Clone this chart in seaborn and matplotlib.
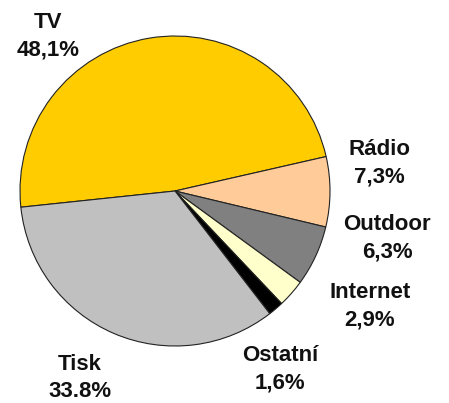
import matplotlib
matplotlib.use("Agg")
import matplotlib.pyplot as plt
import seaborn as sns

sns.set_theme(style="white")
plt.rcParams['font.family'] = ['Liberation Sans', 'DejaVu Sans']

categories = ["TV", "Rádio", "Outdoor", "Internet", "Ostatní", "Tisk"]
values = [48.1, 7.3, 6.3, 2.9, 1.6, 33.8]
value_labels = ["48,1%", "7,3%", "6,3%", "2,9%", "1,6%", "33.8%"]
colors = ["#FFCC00", "#FFCC99", "#808080", "#FFFFCC", "#000000", "#C0C0C0"]

W, H = 449, 403
fig = plt.figure(figsize=(W / 100, H / 100), dpi=100)
cx, cy, r = 175, 191, 155
ax = fig.add_axes([(cx - r) / W, (H - cy - r) / H, 2 * r / W, 2 * r / H])
ax.pie(values, colors=colors, startangle=186, counterclock=False,
       wedgeprops=dict(edgecolor="#222222", linewidth=0.8), radius=1)
ax.set_xlim(-1, 1)
ax.set_ylim(-1, 1)
ax.set_aspect("equal")
ax.axis("off")

# label anchor points (pixel positions in the figure)
label_px = [(48, 36), (379, 163), (387, 238), (370, 306), (280, 369), (80, 378)]
for (px, py), cat, vl in zip(label_px, categories, value_labels):
    fig.text(px / W, 1 - py / H, f"{cat}\n{vl}", ha="center", va="center",
             fontsize=16, fontweight="bold", linespacing=1.4, color="#111111")

fig.savefig("out.png", dpi=100)
